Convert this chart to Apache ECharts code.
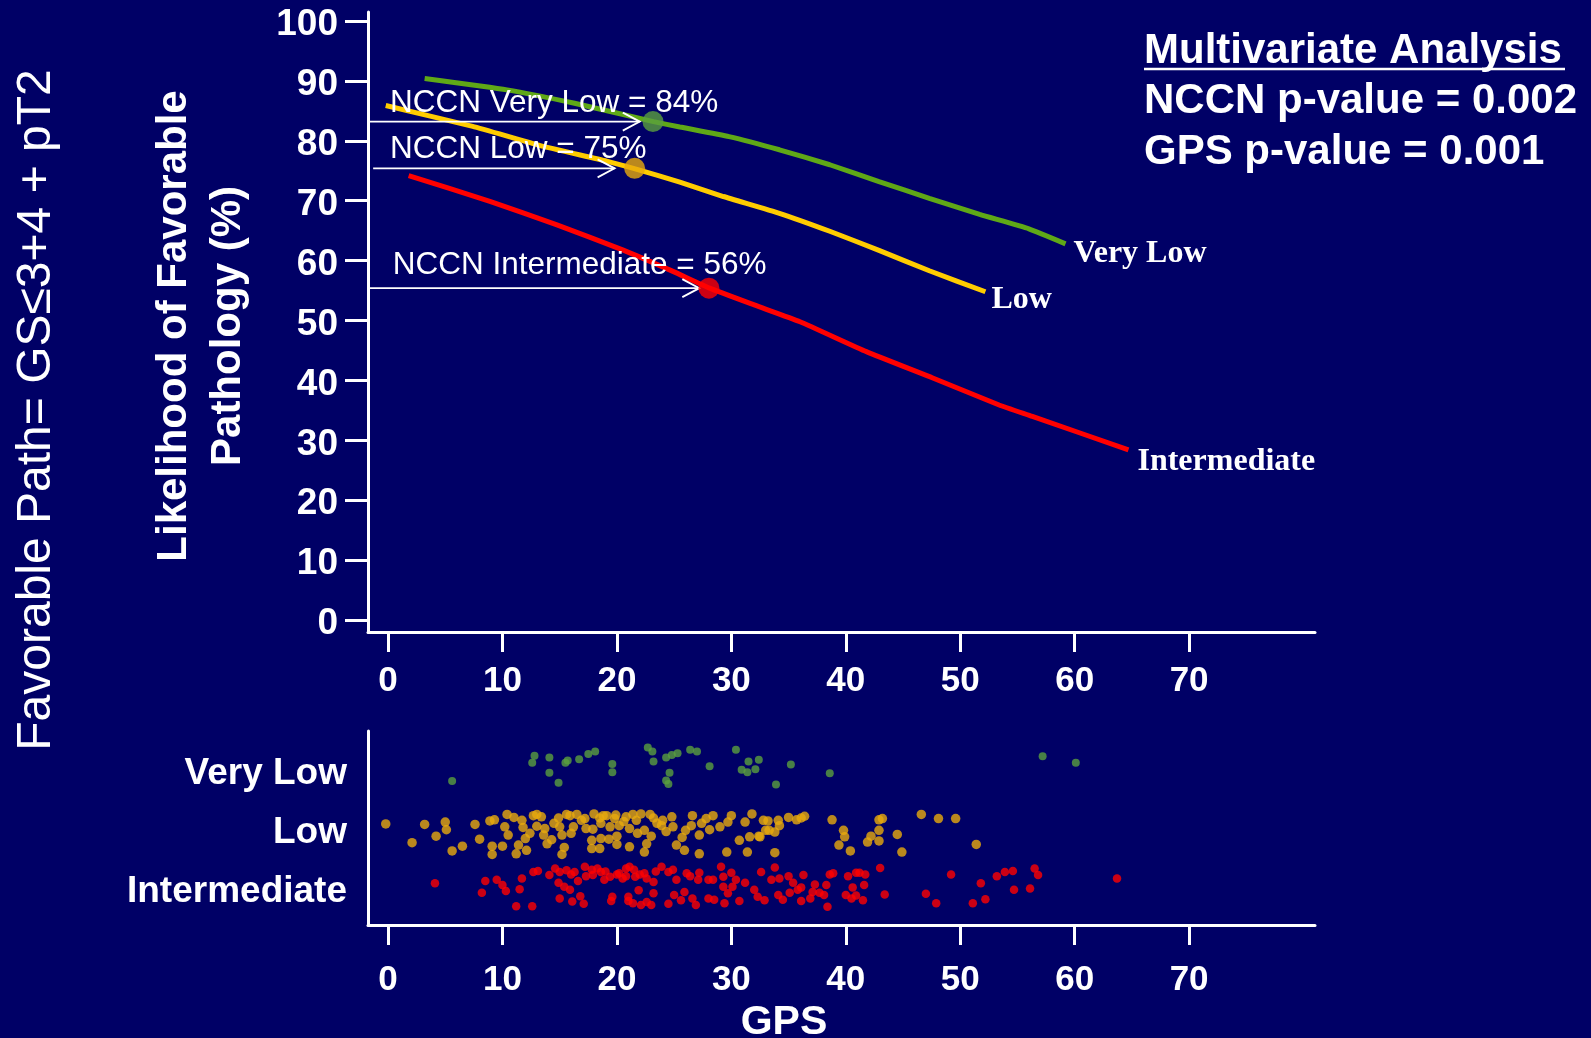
<!DOCTYPE html>
<html>
<head>
<meta charset="utf-8">
<script src="https://cdn.jsdelivr.net/npm/echarts@6/dist/echarts.min.js"></script>
<style>
html,body{margin:0;padding:0;background:#000066;}
#c{width:1591px;height:1038px;}
</style>
</head>
<body>
<div id="c"></div>
<script>
// ---------- DATA ----------
const xTicks = [0, 10, 20, 30, 40, 50, 60, 70];
const yTicks = [0, 10, 20, 30, 40, 50, 60, 70, 80, 90, 100];
const riskNames = ['Intermediate', 'Low', 'Very Low']; // lower panel rows 1,2,3

// Fitted likelihood curves (GPS vs % favorable pathology)
const vlX  = [3.2, 10.4, 16.2, 23.2, 25.5, 29.8, 34.2, 38.6, 42.9, 47.3, 51.7, 56.0, 59.2];
const vlY  = [90.4, 88.5, 86.3, 83.2, 82.3, 80.7, 78.5, 76.0, 73.2, 70.4, 67.7, 65.3, 62.8];
const lowX = [-0.2, 7.4, 13.3, 19.1, 21.6, 25.5, 29.3, 34.2, 38.6, 42.9, 47.3, 52.2];
const lowY = [85.9, 82.4, 79.2, 76.6, 75.3, 73.1, 70.7, 67.9, 64.9, 61.7, 58.3, 54.8];
const intX = [1.8, 8.9, 14.7, 20.5, 24.9, 28.1, 32.0, 36.0, 41.8, 47.6, 53.4, 56.3, 64.7];
const intY = [74.2, 69.9, 66.0, 61.8, 58.2, 55.4, 52.6, 49.8, 44.8, 40.4, 35.9, 34.0, 28.4];

// NCCN reference points
const nccnLabels = ['NCCN Very Low = 84%', 'NCCN Low = 75%', 'NCCN Intermediate = 56%'];
const nccnGps    = [23.15, 21.55, 28.04];
const nccnValue  = [83.2, 75.4, 55.4];
const arrowStart = [-1.75, -1.3, -1.75];
const arrowEnd   = [22.0, 19.8, 27.2];
const labelGps   = [0.17, 0.17, 0.41];
const labelValue = [86.25, 78.6, 59.2];

// Lower panel: individual patients [GPS, row position with jitter]
const vlPts = [[5.6,2.84],[12.8,3.27],[12.6,3.15],[14.1,3.24],[14.1,2.98],[14.9,2.81],[15.5,3.15],[15.7,3.19],
  [16.7,3.21],[17.5,3.30],[18.1,3.34],[19.6,3.13],[19.6,2.99],[22.7,3.41],[23.1,3.34],[23.2,3.17],[24.3,3.24],
  [24.8,3.28],[25.3,3.31],[24.3,2.85],[24.5,2.79],[24.6,2.98],[26.4,3.37],[27.0,3.34],[28.1,3.09],[30.4,3.37],
  [31.5,3.17],[32.4,3.20],[30.9,3.03],[31.4,2.99],[32.1,3.04],[33.9,2.78],[35.2,3.12],[38.6,2.97],[57.2,3.26],[60.1,3.15]];
const lowPts = [[-0.2,2.11],[2.1,1.79],[3.2,2.10],[4.2,1.90],[5.0,2.14],[5.1,2.01],[5.6,1.65],[6.5,1.73],[7.6,2.10],
  [8.0,1.85],[8.9,2.16],[9.3,2.18],[9.1,1.73],[9.1,1.59],[10.4,2.27],[10.2,2.06],[10.5,1.92],[10.0,1.73],[11.2,1.60],
  [11.7,2.17],[11.8,2.05],[12.0,1.86],[11.4,1.75],[12.1,1.66],[12.7,2.25],[13.0,2.07],[13.4,2.23],[13.7,2.03],
  [13.9,1.77],[13.6,1.92],[14.3,1.84],[14.9,2.21],[15.0,2.06],[15.2,1.92],[15.4,1.71],[15.2,1.59],[15.9,2.25],
  [16.2,2.06],[16.9,2.17],[17.3,2.03],[17.8,1.83],[17.8,1.69],[18.5,1.69],[18.6,1.86],[18.5,2.21],[19.1,2.25],
  [19.4,2.06],[19.8,2.20],[20.0,1.76],[20.2,2.08],[20.8,2.23],[21.1,2.03],[21.1,1.72],[21.7,2.17],[22.1,2.28],
  [22.4,2.00],[22.6,1.77],[22.4,1.63],[23.2,2.21],[23.9,2.08],[24.0,2.17],[24.8,2.23],[24.9,2.06],[25.2,1.75],
  [25.7,1.88],[25.9,1.66],[26.6,2.25],[26.5,2.08],[27.2,1.92],[27.4,2.12],[27.2,1.60],[28.1,2.01],[28.4,2.25],
  [29.0,2.06],[29.7,2.14],[29.6,1.63],[30.7,1.83],[31.2,2.14],[31.4,1.63],[31.6,1.89],[32.4,1.90],[32.8,2.17],
  [33.3,2.00],[33.8,1.62],[34.1,2.17],[33.2,2.16],[33.0,2.00],[33.8,1.97],[34.2,2.08],[32.5,1.89],[35.7,2.18],
  [36.1,2.21],[38.8,2.18],[39.8,2.00],[39.9,1.89],[39.4,1.75],[40.4,1.65],[41.9,1.80],[42.2,1.90],[42.9,2.00],
  [42.9,1.82],[42.9,2.18],[43.2,2.20],[44.5,1.93],[44.9,1.63],[46.6,2.27],[48.1,2.20],[49.6,2.20],[51.4,1.76],
  [16.5,2.27],[17.2,2.20],[18.0,2.28],[18.8,2.25],[19.9,2.26],[20.6,2.15],[21.4,2.27],[22.9,2.27],[23.5,2.12],
  [17.9,2.02],[16.0,1.95],[14.5,2.12],[13.0,2.27],[11.0,2.22],[12.4,1.95],[20.0,1.90],[21.8,1.95],[24.3,1.98],
  [26.0,2.00],[27.8,2.20],[30.0,2.25],[31.8,2.28],[35.0,2.22],[36.4,2.24],[18.6,2.12],[19.3,1.85],[15.6,2.27],[23.0,1.90]];
const intPts = [[4.1,1.10],[8.2,0.94],[8.5,1.14],[9.5,1.16],[10.0,1.07],[10.3,0.97],[11.2,0.71],[11.7,1.18],
  [12.6,0.71],[12.7,1.29],[13.1,1.31],[14.1,1.24],[14.6,1.35],[14.9,1.11],[15.0,1.29],[15.0,0.84],[15.6,1.32],
  [15.9,0.99],[16.1,0.79],[16.3,1.29],[16.6,1.14],[16.8,0.88],[17.1,0.75],[17.2,1.38],[17.3,1.22],[17.9,1.24],
  [18.6,1.29],[18.9,1.16],[19.4,1.21],[19.6,0.87],[19.5,0.80],[20.0,1.25],[20.5,1.18],[20.8,1.35],[21.0,0.87],
  [21.1,1.38],[21.4,0.76],[21.6,1.21],[21.9,0.98],[22.1,0.73],[22.4,1.27],[22.6,1.18],[23.2,1.12],[23.0,0.73],
  [23.2,0.93],[23.9,1.38],[24.5,1.29],[24.5,0.75],[25.2,1.16],[25.6,0.81],[25.9,0.95],[26.1,1.27],[26.6,0.84],
  [26.9,0.73],[27.2,1.28],[27.1,1.16],[28.0,1.16],[28.0,0.84],[28.4,1.16],[29.1,1.38],[29.3,1.21],[29.3,1.04],
  [29.4,0.76],[29.7,0.93],[30.1,1.04],[30.4,1.16],[30.7,0.80],[31.2,1.11],[32.0,0.99],[32.3,0.87],[32.6,1.29],
  [32.9,0.81],[33.5,1.16],[33.8,1.37],[34.1,0.90],[34.2,1.18],[35.0,1.22],[35.4,1.11],[36.3,1.24],[35.8,0.99],
  [36.1,1.03],[35.1,0.94],[34.5,0.82],[36.1,0.80],[36.9,0.84],[37.3,1.08],[37.1,0.95],[37.7,0.94],[38.1,0.90],
  [38.3,1.07],[38.4,0.70],[38.6,1.25],[38.9,1.27],[40.2,1.22],[40.6,1.03],[40.0,0.90],[40.5,0.84],[40.9,0.89],
  [40.9,1.28],[41.2,1.28],[41.7,1.25],[41.6,1.07],[41.5,0.81],[43.0,1.36],[43.4,0.91],[47.0,0.92],[47.9,0.76],
  [49.2,1.25],[51.1,0.76],[51.8,1.10],[52.2,0.83],[53.2,1.22],[53.9,1.29],[54.6,1.31],[54.7,0.99],[56.1,1.01],
  [56.5,1.35],[56.8,1.24],[63.7,1.18],
  [17.8,1.33],[19.0,1.30],[20.2,1.27],[21.5,1.33],[22.0,1.25],[23.4,1.30],[24.9,1.33],[16.0,1.25],[18.3,1.35],
  [20.8,1.22],[26.4,1.22],[30.0,1.28],[28.5,0.82],[22.6,0.78],[21.0,0.80],[25.0,0.90],[15.4,1.04],[11.5,1.00]];

// ---------- STYLE ----------
const BG = '#000066';
const C_VL = '#5fa817', C_LOW = '#ffcc00', C_INT = '#ff0000';
const D_VL = '#5a9f3e', D_LOW = '#e8aa0c', D_INT = '#ff0000';
const SANS = '"Liberation Sans", Arial, sans-serif';
const SERIF = '"Liberation Serif", "Times New Roman", serif';

const zip = (a, b) => a.map((v, i) => [v, b[i]]);

function xAxisFor(grid, margin) {
  return {
    gridIndex: grid, type: 'value', min: -1.75, max: 81,
    axisLine: { show: true, onZero: false, lineStyle: { color: '#fff', width: 3 } },
    axisTick: { show: true, customValues: xTicks, length: 20, lineStyle: { color: '#fff', width: 3 } },
    axisLabel: { customValues: xTicks, color: '#fff', fontFamily: SANS, fontWeight: 'bold', fontSize: 35, margin: margin },
    splitLine: { show: false }
  };
}

function endLabel(text, dx, dy) {
  return {
    show: true, formatter: text, color: '#fff', fontFamily: SERIF, fontWeight: 'bold',
    fontSize: 32, distance: 0, offset: [dx, dy], align: 'left', verticalAlign: 'middle'
  };
}

const chart = echarts.init(document.getElementById('c'), null, { renderer: 'canvas' });

const option = {
  backgroundColor: BG,
  animation: false,
  grid: [
    { left: 368, right: 276, top: 12, bottom: 406 },
    { left: 368, right: 276, top: 731, bottom: 113 }
  ],
  xAxis: [ xAxisFor(0, 32), xAxisFor(1, 38) ],
  yAxis: [
    {
      gridIndex: 0, type: 'value', min: -2, max: 101.5,
      axisLine: { show: true, onZero: false, lineStyle: { color: '#fff', width: 3 } },
      axisTick: { show: true, customValues: yTicks, length: 23, lineStyle: { color: '#fff', width: 3 } },
      axisLabel: { customValues: yTicks, color: '#fff', fontFamily: SANS, fontWeight: 'bold', fontSize: 37,
                   margin: 30, verticalAlign: 'top', lineHeight: 8 },
      splitLine: { show: false }
    },
    {
      gridIndex: 1, type: 'value', min: 0.39, max: 3.69,
      axisLine: { show: true, onZero: false, lineStyle: { color: '#fff', width: 3 } },
      axisTick: { show: false },
      axisLabel: {
        customValues: [1, 2, 3], color: '#fff', fontFamily: SANS, fontWeight: 'bold', fontSize: 37, margin: 21,
        verticalAlign: 'top', lineHeight: 5,
        formatter: v => riskNames[Math.round(v) - 1]
      },
      splitLine: { show: false }
    }
  ],
  series: [
    { type: 'line', name: 'Very Low', xAxisIndex: 0, yAxisIndex: 0, data: zip(vlX, vlY), smooth: 0.15,
      showSymbol: false, lineStyle: { color: C_VL, width: 5 }, z: 2, endLabel: endLabel('Very Low', 8, 10) },
    { type: 'line', name: 'Low', xAxisIndex: 0, yAxisIndex: 0, data: zip(lowX, lowY), smooth: 0.15,
      showSymbol: false, lineStyle: { color: C_LOW, width: 5 }, z: 2, endLabel: endLabel('Low', 6, 8) },
    { type: 'line', name: 'Intermediate', xAxisIndex: 0, yAxisIndex: 0, data: zip(intX, intY), smooth: 0.15,
      showSymbol: false, lineStyle: { color: C_INT, width: 5 }, z: 2, endLabel: endLabel('Intermediate', 9, 12) },
    {
      type: 'custom', xAxisIndex: 0, yAxisIndex: 0, z: 3, silent: true,
      data: nccnLabels.map((t, i) => [arrowStart[i], arrowEnd[i], nccnValue[i], labelGps[i], labelValue[i]]),
      renderItem: function (params, api) {
        const s = api.coord([api.value(0), api.value(2)]);
        const e = api.coord([api.value(1), api.value(2)]);
        const t = api.coord([api.value(3), api.value(4)]);
        return {
          type: 'group',
          children: [
            { type: 'line', shape: { x1: s[0], y1: s[1], x2: e[0], y2: e[1] }, style: { stroke: '#fff', lineWidth: 1.8 } },
            { type: 'polyline', shape: { points: [[e[0] - 17, e[1] - 9], [e[0], e[1]], [e[0] - 17, e[1] + 9]] },
              style: { stroke: '#fff', lineWidth: 1.8, fill: null } },
            { type: 'text', x: t[0], y: t[1],
              style: { text: nccnLabels[params.dataIndex], fill: '#fff', fontFamily: SANS, fontSize: 31.5,
                       align: 'left', verticalAlign: 'middle' } }
          ]
        };
      }
    },
    {
      type: 'scatter', xAxisIndex: 0, yAxisIndex: 0, z: 4, symbolSize: 21,
      data: nccnGps.map((g, i) => ({ value: [g, nccnValue[i]], itemStyle: { color: [D_VL, D_LOW, D_INT][i] } }))
    },
    { type: 'scatter', xAxisIndex: 1, yAxisIndex: 1, data: vlPts, symbolSize: 8, itemStyle: { color: D_VL } },
    { type: 'scatter', xAxisIndex: 1, yAxisIndex: 1, data: lowPts, symbolSize: 9.5, itemStyle: { color: D_LOW } },
    { type: 'scatter', xAxisIndex: 1, yAxisIndex: 1, data: intPts, symbolSize: 8.5, itemStyle: { color: D_INT } }
  ],
  graphic: [
    { type: 'text', x: 37, y: 410, rotation: Math.PI / 2,
      style: { text: 'Favorable Path= GS\u22643+4 + pT2', fill: '#fff', fontFamily: SANS, fontSize: 48,
               align: 'center', verticalAlign: 'middle' } },
    { type: 'text', x: 201, y: 326, rotation: Math.PI / 2,
      style: { text: 'Likelihood of Favorable\nPathology (%)', fill: '#fff', fontFamily: SANS, fontWeight: 'bold',
               fontSize: 42, lineHeight: 54, align: 'center', verticalAlign: 'middle' } },
    { type: 'text', x: 1144, y: 51,
      style: { text: 'Multivariate Analysis', fill: '#fff', fontFamily: SANS, fontWeight: 'bold', fontSize: 42,
               align: 'left', verticalAlign: 'middle' } },
    { type: 'line', shape: { x1: 1144, y1: 69, x2: 1565, y2: 69 }, style: { stroke: '#fff', lineWidth: 2.5 } },
    { type: 'text', x: 1144, y: 101.5,
      style: { text: 'NCCN p-value = 0.002', fill: '#fff', fontFamily: SANS, fontWeight: 'bold', fontSize: 42,
               align: 'left', verticalAlign: 'middle' } },
    { type: 'text', x: 1144, y: 152,
      style: { text: 'GPS p-value = 0.001', fill: '#fff', fontFamily: SANS, fontWeight: 'bold', fontSize: 42,
               align: 'left', verticalAlign: 'middle' } },
    { type: 'text', x: 784, y: 1023,
      style: { text: 'GPS', fill: '#fff', fontFamily: SANS, fontWeight: 'bold', fontSize: 41,
               align: 'center', verticalAlign: 'middle' } }
  ]
};
chart.setOption(option);
</script>
</body>
</html>
